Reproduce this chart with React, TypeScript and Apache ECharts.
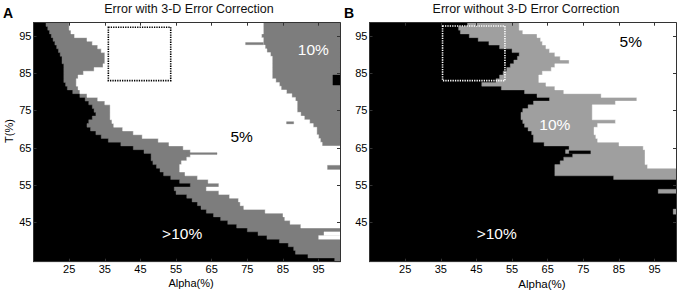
import { useEffect, useRef } from "react";
import * as echarts from "echarts";

const FONT = "'Liberation Sans', Arial, Helvetica, sans-serif";

// ---- axes ----
const alphaMin = 15;
const alphaMax = 101;
const tMin = 34.5;
const tMax = 98.5;
const xTickValues = [25, 35, 45, 55, 65, 75, 85, 95];
const yTickValues = [45, 55, 65, 75, 85, 95];
const topRowT = 98; // rows are T = 98 (top) down to 35 (bottom), each 1 unit tall

// ---- Panel A (with 3-D error correction) ----
// alpha where the black (>10%) region ends, rows T=98..35
const aBlackEnd = [
  18.5, 19, 19.5, 20, 20.5, 21, 21.5, 22, 22.5, 23,
  23, 23.5, 23.5, 23.5, 23.5, 23.5, 24, 24.5, 26, 28,
  29.5, 30.5, 31.5, 32, 32.5, 31.5, 30.5, 30, 31, 32.5,
  34, 36, 39.5, 43, 46, 48, 48, 48.5, 49.5, 50.5,
  51.5, 53.5, 56, 59, 54.5, 55, 58, 59.5, 61, 62,
  63.5, 65.5, 67.5, 69.5, 72, 75, 78, 80.5, 84, 86.5,
  88, 88.5, 92, 99.5,
];
// alpha where the left gray band ends / white (5%) starts, rows T=98..44
const aGrayEnd = [
  25, 25, 25.5, 26.5, 30, 31.5, 33, 34, 35, 35,
  35, 34.5, 32, 29, 27.5, 27, 27, 27.5, 28, 30,
  33, 35, 36.5, 36.5, 36.5, 36.5, 37, 37.5, 40, 43,
  45.5, 50, 53, 57, 59, 59, 58, 56.5, 56, 56,
  57.5, 61, 64, 67, 63.5, 67, 70, 72.5, 73, 74,
  80, 85, 85.5, 87, 90,
];
// alpha where the white ends / right gray (10%) region starts, rows T=98..44
const aWhiteEnd = [
  79.5, 79.5, 79.5, 79, 79.5, 79.5, 80, 80.5, 81.5, 82,
  82, 82, 82, 82, 82, 83, 84, 84.5, 86, 87.5,
  88.5, 89, 89, 89, 90, 91, 92.5, 93.5, 94.5, 94.5,
  95, 95.5, 96, 101, 101, 101, 101, 101, 101, 101,
  101, 101, 101, 101, 101, 101, 101, 101, 101, 101,
  101, 101, 101, 101, 101,
];
// small isolated patches in panel A
const aPatchAlpha0 = [74.5, 86, 58, 97.5, 96.5, 95, 99];
const aPatchAlpha1 = [79.5, 88, 66.5, 101, 101, 101, 101];
const aPatchT0 = [92.6, 71.4, 63.2, 59.2, 41.5, 40.5, 81.8];
const aPatchT1 = [93.2, 72, 63.7, 60.3, 42.5, 41.5, 84.5];
const aPatchClass = [2, 2, 2, 2, 1, 1, 0]; // 0 = >10%, 1 = 5%, 2 = 10%

// ---- Panel B (without 3-D error correction) ----
// alpha where black ends, rows T=98..57 (rows below are black, except patches)
const bBlackEnd = [
  42.5, 40, 40.5, 43, 45.5, 48.5, 51.5, 55, 57, 56.5,
  55.5, 54.5, 53.5, 52.5, 51.5, 50.5, 46.5, 52, 58.5, 62,
  65.5, 61, 59.5, 58, 57.5, 57.5, 58, 58.5, 59.5, 60.5,
  61, 61, 64, 71, 70, 72, 69.5, 68.5, 67, 67,
  67, 83.5,
];
// alpha where gray ends / white starts, rows T=98..60 (white reaches the right edge)
const bGrayEnd = [
  57, 57, 58, 62, 63, 63.5, 64.5, 65.5, 67, 68.5,
  71, 67, 66, 63.5, 62.5, 62.5, 64.5, 67, 69.5, 80,
  90, 84, 77.5, 77.5, 77.5, 77.5, 84, 79, 78, 78,
  78.5, 79, 85, 91.8, 92.3, 92.3, 92.3, 92.3, 93,
];
const bPatchAlpha0 = [96, 71, 100.2];
const bPatchAlpha1 = [101, 77, 101];
const bPatchT0 = [52.8, 63.4, 47.2];
const bPatchT1 = [53.9, 64.2, 48.6];
const bPatchClass = [2, 0, 2];

// ---- region labels ----
const regionLabels = [">10%", "5%", "10%"];
const aLabelAlpha = [56.7, 73.4, 93.5];
const aLabelT = [42.1, 68.0, 91.4];
const bLabelAlpha = [50.7, 88.3, 67.0];
const bLabelT = [42.1, 93.4, 71.3];

// ---- dotted boxes [alpha0, alpha1, T0, T1] ----
const aBox = [36, 53.5, 83, 97.3];
const bBox = [35.5, 53, 83, 97.6];

const aColors = ["#000000", "#ffffff", "#7d7d7d"];
const bColors = ["#000000", "#ffffff", "#9f9f9f"];
const labelColors = ["#ffffff", "#000000", "#ffffff"];

function stair(left: number[] | number, right: number[] | number, rows: number): number[][] {
  const pts: number[][] = [];
  const L = (i: number) => (typeof left === "number" ? left : left[i]);
  const R = (i: number) => (typeof right === "number" ? right : right[i]);
  for (let i = 0; i < rows; i++) {
    const t = topRowT - i;
    pts.push([L(i), t + 0.5], [L(i), t - 0.5]);
  }
  for (let i = rows - 1; i >= 0; i--) {
    const t = topRowT - i;
    pts.push([R(i), t - 0.5], [R(i), t + 0.5]);
  }
  return pts;
}

function regionSeries(layers: { pts: number[][]; color: string }[], axisIndex: number) {
  return {
    type: "custom",
    coordinateSystem: "cartesian2d",
    xAxisIndex: axisIndex,
    yAxisIndex: axisIndex,
    silent: true,
    z: 2,
    data: layers.map((_, i) => [i, i]),
    renderItem: (params: any, api: any) => {
      const layer = layers[params.dataIndex];
      const points = layer.pts.map((p) => api.coord(p));
      return {
        type: "polygon",
        z2: params.dataIndex,
        shape: { points },
        style: { fill: layer.color, stroke: layer.color, lineWidth: 0.4 },
      };
    },
  };
}

function patchSeries(a0: number[], a1: number[], t0: number[], t1: number[], cls: number[], colors: string[], axisIndex: number) {
  return {
    type: "custom",
    coordinateSystem: "cartesian2d",
    xAxisIndex: axisIndex,
    yAxisIndex: axisIndex,
    silent: true,
    z: 3,
    data: a0.map((v, i) => [v, a1[i], t0[i], t1[i], cls[i]]),
    renderItem: (params: any, api: any) => {
      const p0 = api.coord([api.value(0), api.value(3)]);
      const p1 = api.coord([api.value(1), api.value(2)]);
      const c = colors[api.value(4)];
      return {
        type: "rect",
        shape: { x: p0[0], y: p0[1], width: p1[0] - p0[0], height: p1[1] - p0[1] },
        style: { fill: c, stroke: c, lineWidth: 0.3 },
      };
    },
  };
}

function boxSeries(box: number[], color: string, axisIndex: number) {
  return {
    type: "custom",
    coordinateSystem: "cartesian2d",
    xAxisIndex: axisIndex,
    yAxisIndex: axisIndex,
    silent: true,
    z: 4,
    data: [box],
    renderItem: (params: any, api: any) => {
      const p0 = api.coord([api.value(0), api.value(3)]);
      const p1 = api.coord([api.value(1), api.value(2)]);
      return {
        type: "rect",
        shape: { x: p0[0], y: p0[1], width: p1[0] - p0[0], height: p1[1] - p0[1] },
        style: { fill: "none", stroke: color, lineWidth: 1.6, lineDash: [1.3, 1.1] },
      };
    },
  };
}

function labelSeries(alphas: number[], ts: number[], axisIndex: number, fontSize: number) {
  return {
    type: "custom",
    coordinateSystem: "cartesian2d",
    xAxisIndex: axisIndex,
    yAxisIndex: axisIndex,
    silent: true,
    z: 5,
    data: alphas.map((a, i) => [a, ts[i], i]),
    renderItem: (params: any, api: any) => {
      const p = api.coord([api.value(0), api.value(1)]);
      const idx = api.value(2);
      return {
        type: "text",
        x: p[0],
        y: p[1],
        style: {
          text: regionLabels[idx],
          fill: labelColors[idx],
          fontSize,
          fontFamily: FONT,
          textAlign: "center",
          textVerticalAlign: "middle",
        },
      };
    },
  };
}

function axesFor(gridIndex: number) {
  const line = { show: true, onZero: false, lineStyle: { color: "#333", width: 1 } };
  const tick = { show: true, inside: true, length: 3, lineStyle: { color: "#333", width: 1 } };
  const label = { fontSize: 11, fontFamily: FONT, color: "#000" };
  const xAxes = [
    {
      type: "value", gridIndex, position: "bottom", min: alphaMin, max: alphaMax, z: 10,
      axisLine: line, splitLine: { show: false },
      axisTick: { ...tick, customValues: xTickValues },
      axisLabel: { ...label, margin: 2, customValues: xTickValues },
    },
    {
      type: "value", gridIndex, position: "top", min: alphaMin, max: alphaMax, z: 10,
      axisLine: line, splitLine: { show: false },
      axisTick: { ...tick, customValues: xTickValues },
      axisLabel: { show: false },
    },
  ];
  const yAxes = [
    {
      type: "value", gridIndex, position: "left", min: tMin, max: tMax, z: 10,
      axisLine: line, splitLine: { show: false },
      axisTick: { ...tick, customValues: yTickValues },
      axisLabel: { ...label, margin: 2, customValues: yTickValues },
    },
    {
      type: "value", gridIndex, position: "right", min: tMin, max: tMax, z: 10,
      axisLine: line, splitLine: { show: false },
      axisTick: { ...tick, customValues: yTickValues },
      axisLabel: { show: false },
    },
  ];
  return { xAxes, yAxes };
}

function buildOption() {
  const aLayers = [
    { pts: [[alphaMin, tMax], [alphaMin, tMin], [alphaMax, tMin], [alphaMax, tMax]], color: aColors[0] },
    { pts: stair(aBlackEnd, alphaMax, aBlackEnd.length), color: aColors[2] },
    { pts: stair(aGrayEnd, aWhiteEnd, aGrayEnd.length), color: aColors[1] },
  ];
  const bLayers = [
    { pts: [[alphaMin, tMax], [alphaMin, tMin], [alphaMax, tMin], [alphaMax, tMax]], color: bColors[0] },
    { pts: stair(bBlackEnd, alphaMax, bBlackEnd.length), color: bColors[2] },
    { pts: stair(bGrayEnd, alphaMax, bGrayEnd.length), color: bColors[1] },
  ];
  const axA = axesFor(0);
  const axB = axesFor(1);
  // xAxis indices: 0 (A bottom), 1 (A top), 2 (B bottom), 3 (B top); same for y
  return {
    animation: false,
    backgroundColor: "#ffffff",
    grid: [
      { left: 33.5, top: 22.7, width: 306.5, height: 239, outerBoundsMode: "none" },
      { left: 369.5, top: 22.7, width: 306.5, height: 239, outerBoundsMode: "none" },
    ],
    xAxis: [...axA.xAxes, ...axB.xAxes],
    yAxis: [...axA.yAxes, ...axB.yAxes],
    series: [
      regionSeries(aLayers, 0),
      patchSeries(aPatchAlpha0, aPatchAlpha1, aPatchT0, aPatchT1, aPatchClass, aColors, 0),
      boxSeries(aBox, "#000000", 0),
      labelSeries(aLabelAlpha, aLabelT, 0, 15.5),
      regionSeries(bLayers, 2),
      patchSeries(bPatchAlpha0, bPatchAlpha1, bPatchT0, bPatchT1, bPatchClass, bColors, 2),
      boxSeries(bBox, "#ffffff", 2),
      labelSeries(bLabelAlpha, bLabelT, 2, 15.5),
    ],
    graphic: [
      { type: "text", left: 3, top: 6, style: { text: "A", fontSize: 14, fontWeight: "bold", fontFamily: FONT, fill: "#000" } },
      { type: "text", left: 344, top: 6, style: { text: "B", fontSize: 14, fontWeight: "bold", fontFamily: FONT, fill: "#000" } },
      { type: "text", x: 189, y: 9, style: { text: "Error with 3-D Error Correction", fontSize: 12.5, fontFamily: FONT, fill: "#111", textAlign: "center", textVerticalAlign: "middle" } },
      { type: "text", x: 526, y: 9, style: { text: "Error without 3-D Error Correction", fontSize: 12.5, fontFamily: FONT, fill: "#111", textAlign: "center", textVerticalAlign: "middle" } },
      { type: "text", x: 9, y: 131, rotation: Math.PI / 2, style: { text: "T(%)", fontSize: 11, fontFamily: FONT, fill: "#000", textAlign: "center", textVerticalAlign: "middle" } },
      { type: "text", x: 191, y: 283, style: { text: "Alpha(%)", fontSize: 11, fontFamily: FONT, fill: "#000", textAlign: "center", textVerticalAlign: "middle" } },
      { type: "text", x: 542, y: 283.5, style: { text: "Alpha(%)", fontSize: 11.5, fontFamily: FONT, fill: "#000", textAlign: "center", textVerticalAlign: "middle" } },
    ],
  };
}

export default function App() {
  const ref = useRef<HTMLDivElement>(null);
  useEffect(() => {
    if (!ref.current) return;
    const chart = echarts.init(ref.current, null, { renderer: "svg" });
    chart.setOption(buildOption() as any);
    return () => chart.dispose();
  }, []);
  return (
    <div
      ref={ref}
      style={{ position: "fixed", left: 0, top: 0, width: 680, height: 293, background: "#fff" }}
    />
  );
}
